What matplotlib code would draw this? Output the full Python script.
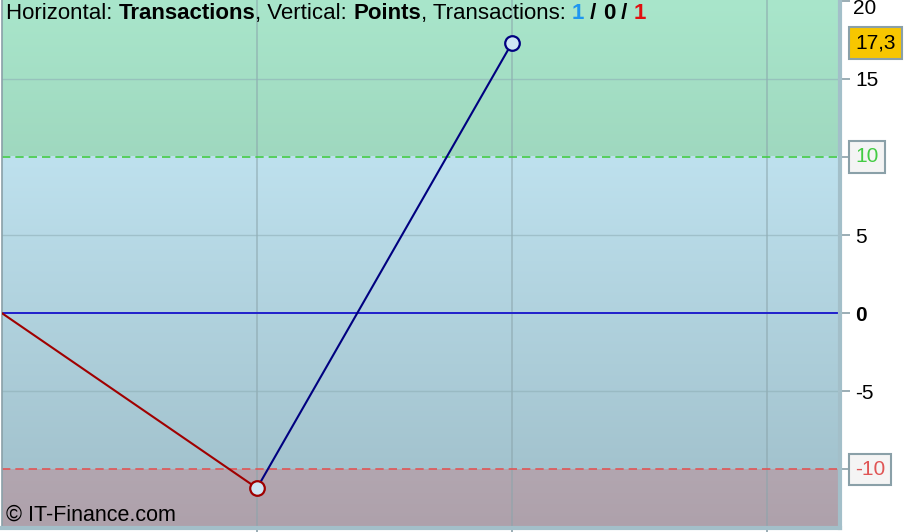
import matplotlib
matplotlib.use("Agg")
import matplotlib.pyplot as plt
import numpy as np
from matplotlib.colors import LinearSegmentedColormap
from matplotlib.transforms import offset_copy

plt.rcParams['font.family'] = ['Liberation Sans', 'DejaVu Sans']

# Data
transactions = [0, 1, 2]
points = [0.0, -11.2, 17.3]
segment_colors = ['#a00000', '#000080']
y_ticks = [20, 15, 10, 5, 0, -5, -10]
upper_level = 10
lower_level = -10
last_label = '17,3'

fig = plt.figure(figsize=(9.12, 5.32), dpi=100)
ax = fig.add_axes([2/912, 4/532, 838/912, 528/532])

xmax = 838/255
ymin, ymax = -13.75, 20.05
ax.set_xlim(0, xmax)
ax.set_ylim(ymin, ymax)

def grad(y0, y1, c_top, c_bot):
    cmap = LinearSegmentedColormap.from_list('g', [c_bot, c_top])
    arr = np.linspace(0, 1, 256).reshape(-1, 1)
    ax.imshow(arr, cmap=cmap, aspect='auto', origin='lower',
              extent=[0, xmax, y0, y1], zorder=0, interpolation='bicubic')

grad(upper_level, ymax, '#a9e6cb', '#9fd8bf')
grad(lower_level, upper_level, '#bee1ee', '#a3c3ce')
grad(ymin, lower_level, '#b2a6b0', '#aea1ab')

# grid
for xv in [1, 2, 3]:
    ax.axvline(xv, color='#8aa4ab', lw=1.2, alpha=0.6, zorder=1)
for yv in [15, 5, -5]:
    ax.axhline(yv, color='#8fb0b8', lw=1.0, alpha=0.6, zorder=1)

ax.axhline(upper_level, color='#44cc44', lw=1.2, ls=(0, (5, 3)), zorder=2)
ax.axhline(lower_level, color='#e05555', lw=1.2, ls=(0, (5, 3)), zorder=2)
ax.axhline(0, color='#2020cc', lw=1.4, zorder=2)

for i in range(len(transactions) - 1):
    ax.plot(transactions[i:i+2], points[i:i+2], color=segment_colors[i], lw=1.5, zorder=3)
for i in range(1, len(transactions)):
    ax.plot(transactions[i], points[i], 'o', ms=10.5, mfc='#cfe6f4',
            mec=segment_colors[i-1], mew=1.6, zorder=4, clip_on=False)

# spines
ax.spines['top'].set_visible(False)
ax.spines['left'].set_color('#8aa0a8')
ax.spines['left'].set_linewidth(1.2)
ax.spines['right'].set_color('#a3bfc9')
ax.spines['right'].set_linewidth(3)
ax.spines['bottom'].set_color('#a3bfc9')
ax.spines['bottom'].set_linewidth(3)

ax.set_xticks([1, 2, 3])
ax.set_xticklabels([])
ax.tick_params(axis='x', length=5, color='#8aa0a8', width=1.2)

ax.yaxis.tick_right()
ax.set_yticks(y_ticks)
labels = []
for v in y_ticks:
    if v in (upper_level, lower_level, y_ticks[0]):
        labels.append('')
    else:
        labels.append(str(v))
ax.set_yticklabels(labels, fontsize=15)
ax.tick_params(axis='y', length=7, color='#8aa0a8', width=1.2, pad=4)
for lab, v in zip(ax.get_yticklabels(), y_ticks):
    if v == 0:
        lab.set_fontweight('bold')

tr = ax.get_yaxis_transform()
# top tick label, pushed down to stay inside the figure
ax.text(1.0, y_ticks[0], str(y_ticks[0]), fontsize=15, va='center', ha='left',
        transform=offset_copy(tr, fig=fig, x=13, y=-8, units='dots'), clip_on=False)

box_kw = dict(boxstyle='square,pad=0.3', ec='#8aa0a8', lw=1.5)
ax.text(1.0, upper_level, str(upper_level), fontsize=15,
        transform=offset_copy(tr, fig=fig, x=15, y=0, units='dots'),
        color='#44cc44', va='center', ha='left', bbox=dict(fc='#f4f4f4', **box_kw))
ax.text(1.0, lower_level, str(lower_level), fontsize=15,
        transform=offset_copy(tr, fig=fig, x=15, y=0, units='dots'),
        color='#e05555', va='center', ha='left', bbox=dict(fc='#f4f4f4', **box_kw))
ax.text(1.0, points[-1], last_label, fontsize=15,
        transform=offset_copy(tr, fig=fig, x=15, y=0, units='dots'),
        color='black', va='center', ha='left', bbox=dict(fc='#f7c600', **box_kw))

# title pieces
parts = [('Horizontal: ', 'normal', 'black'), ('Transactions', 'bold', 'black'),
         (', Vertical: ', 'normal', 'black'), ('Points', 'bold', 'black'),
         (', Transactions: ', 'normal', 'black'), ('1', 'bold', '#1e96f0'),
         (' / ', 'bold', 'black'), ('0', 'bold', 'black'), (' / ', 'bold', 'black'),
         ('1', 'bold', '#e01010')]
prev = ax.text(4/838, 1 - 3/528, parts[0][0], transform=ax.transAxes, fontsize=16,
               fontweight=parts[0][1], color=parts[0][2], va='top', ha='left', zorder=6)
for txt, w, c in parts[1:]:
    prev = ax.annotate(txt, xy=(1, 0), xycoords=prev, xytext=(0, 0),
                       textcoords='offset points', va='bottom', ha='left',
                       fontsize=16, fontweight=w, color=c, zorder=6)

ax.text(4/838, 2/528, '© IT-Finance.com', transform=ax.transAxes, fontsize=15.5,
        color='black', va='bottom', ha='left', zorder=6)

fig.savefig('out.png', dpi=100)
